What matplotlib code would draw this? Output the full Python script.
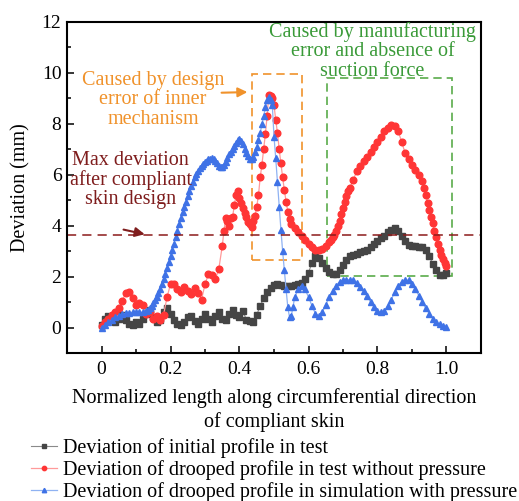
import numpy as np
import matplotlib
matplotlib.use("Agg")
import matplotlib.pyplot as plt
from matplotlib.patches import Rectangle
from matplotlib.ticker import FixedLocator

plt.rcParams['font.family'] = ['Liberation Serif', 'DejaVu Serif']

# ---- data ----
x_init = [round(0.01 * i, 2) for i in range(101)]
y_init = [0.1, 0.35, 0.45, 0.3, 0.2, 0.35, 0.5, 0.3, 0.15, 0.1,
          0.2, 0.15, 0.35, 0.55, 0.7, 0.4, 0.2, 0.3, 0.6, 0.75,
          0.55, 0.3, 0.15, 0.1, 0.2, 0.4, 0.45, 0.25, 0.15, 0.35,
          0.55, 0.35, 0.2, 0.45, 0.6, 0.35, 0.3, 0.55, 0.7, 0.5,
          0.4, 0.65, 0.3, 0.25, 0.2, 0.5, 0.85, 1.15, 1.4, 1.55,
          1.68, 1.7, 1.68, 1.65, 1.65, 1.65, 1.67, 1.7, 1.75, 1.9,
          2.15, 2.55, 2.8, 2.75, 2.55, 2.35, 2.2, 2.1, 2.1, 2.25,
          2.45, 2.65, 2.8, 2.85, 2.9, 2.95, 3.0, 3.05, 3.15, 3.3,
          3.4, 3.5, 3.6, 3.75, 3.85, 3.9, 3.8, 3.6, 3.4, 3.25,
          3.2, 3.2, 3.15, 3.15, 3.05, 2.8, 2.5, 2.25, 2.05, 2.05,
          2.15]

x_test = [0.00, 0.01, 0.02, 0.03, 0.04, 0.05, 0.06, 0.07, 0.08, 0.09,
          0.10, 0.11, 0.12, 0.13, 0.14, 0.15, 0.16, 0.17, 0.18, 0.19,
          0.20, 0.21, 0.22, 0.23, 0.24, 0.25, 0.26, 0.27, 0.28, 0.29,
          0.30, 0.31, 0.32, 0.33, 0.34, 0.35, 0.355, 0.36, 0.365, 0.37,
          0.375, 0.38, 0.385, 0.39, 0.395, 0.40, 0.405, 0.41, 0.415, 0.42,
          0.425, 0.43, 0.435, 0.44, 0.445, 0.45, 0.455, 0.46, 0.465, 0.47,
          0.475, 0.48, 0.485, 0.49, 0.495, 0.50, 0.505, 0.51, 0.515, 0.52,
          0.525, 0.53, 0.535, 0.54, 0.545, 0.55, 0.56, 0.57, 0.58, 0.59,
          0.60, 0.61, 0.62, 0.63, 0.64, 0.65, 0.66, 0.665, 0.67, 0.675,
          0.68, 0.685, 0.69, 0.695, 0.70, 0.705, 0.71, 0.715, 0.72, 0.73,
          0.74, 0.75, 0.76, 0.77, 0.78, 0.79,
          0.80, 0.81, 0.82, 0.83, 0.84, 0.85, 0.86, 0.87, 0.88, 0.89,
          0.90, 0.91, 0.92, 0.93, 0.935, 0.94, 0.945, 0.95, 0.955, 0.96,
          0.965, 0.97, 0.975, 0.98, 0.985, 0.99, 0.995, 1.00]
y_test = [0.05, 0.2, 0.35, 0.5, 0.6, 0.75, 1.05, 1.35, 1.4, 1.15,
          0.9, 0.95, 0.9, 0.55, 0.6, 0.35, 0.45, 0.3, 0.5, 1.2,
          1.7, 1.7, 1.5, 1.4, 1.6, 1.45, 1.3, 1.55, 1.35, 1.1,
          1.7, 2.1, 2.05, 1.9, 2.3, 3.2, 3.8, 4.3, 4.2, 4.0,
          4.3, 4.35, 4.8, 5.2, 5.35, 5.1, 4.9, 4.7, 4.5, 4.35,
          4.15, 4.05, 3.95, 4.2, 4.4, 4.75, 5.2, 5.9, 6.4, 7.0,
          7.6, 8.3, 9.15, 9.1, 9.0, 8.75, 8.15, 7.65, 7.0, 6.45,
          5.9, 5.4, 4.95, 4.55, 4.25, 4.05, 3.9, 3.75, 3.6, 3.45,
          3.3, 3.15, 3.05, 3.05, 3.1, 3.2, 3.35, 3.45, 3.55, 3.65,
          3.8, 4.0, 4.2, 4.45, 4.7, 4.95, 5.15, 5.35, 5.5, 5.8,
          6.15, 6.35, 6.55, 6.7, 6.9, 7.1,
          7.3, 7.5, 7.7, 7.85, 7.95, 7.9, 7.7, 7.3, 6.85, 6.6,
          6.4, 6.2, 6.0, 5.75, 5.5, 5.2, 4.9, 4.6, 4.35, 4.1,
          3.8, 3.55, 3.3, 3.05, 2.85, 2.7, 2.55, 2.4]

x_sim = [0.00, 0.01, 0.02, 0.03, 0.04, 0.05, 0.06, 0.07, 0.08, 0.09,
         0.10, 0.11, 0.12, 0.13, 0.135, 0.14, 0.145, 0.15, 0.155, 0.16,
         0.165, 0.17, 0.175, 0.18, 0.185, 0.19, 0.195, 0.20, 0.205, 0.21,
         0.215, 0.22, 0.225, 0.23, 0.235, 0.24, 0.245, 0.25, 0.255, 0.26,
         0.265, 0.27, 0.275, 0.28, 0.285, 0.29, 0.295, 0.30, 0.305, 0.31,
         0.315, 0.32, 0.325, 0.33, 0.335, 0.34, 0.345, 0.35, 0.355, 0.36,
         0.365, 0.37, 0.375, 0.38, 0.385, 0.39, 0.395, 0.40, 0.405, 0.41,
         0.415, 0.42, 0.425, 0.43, 0.435, 0.44, 0.445, 0.45, 0.455, 0.46,
         0.465, 0.47, 0.475, 0.48,
         0.485, 0.49, 0.495, 0.50, 0.505, 0.51, 0.515, 0.52, 0.525, 0.53,
         0.535, 0.54, 0.545, 0.55, 0.555, 0.56, 0.57, 0.58, 0.59, 0.60,
         0.61, 0.62, 0.63, 0.64, 0.65, 0.66, 0.67, 0.68, 0.69, 0.70,
         0.71, 0.72, 0.73, 0.74, 0.75, 0.76, 0.77, 0.78, 0.79, 0.80,
         0.81, 0.82, 0.83, 0.84, 0.85, 0.86, 0.87, 0.88, 0.89, 0.90,
         0.91, 0.92, 0.93, 0.94, 0.95, 0.96, 0.97, 0.98, 0.99, 1.00]
y_sim = [0.0, 0.1, 0.2, 0.3, 0.4, 0.47, 0.52, 0.56, 0.58, 0.6,
         0.6, 0.6, 0.6, 0.65, 0.7, 0.78, 0.86, 0.95, 1.07, 1.2,
         1.35, 1.5, 1.7, 1.9, 2.12, 2.35, 2.57, 2.8, 3.05, 3.3,
         3.55, 3.8, 4.05, 4.3, 4.52, 4.75, 4.95, 5.15, 5.35, 5.55,
         5.72, 5.9, 6.02, 6.15, 6.25, 6.35, 6.43, 6.5, 6.56, 6.6,
         6.63, 6.65, 6.62, 6.55, 6.45, 6.35, 6.3, 6.3, 6.38, 6.5,
         6.65, 6.8, 6.9, 7.0, 7.12, 7.25, 7.35, 7.4, 7.32, 7.2,
         7.02, 6.85, 6.72, 6.6, 6.62, 6.7, 6.88, 7.1, 7.35, 7.65,
         7.98, 8.3, 8.65, 8.95,
         9.05, 8.95, 8.75, 7.5, 6.65, 5.7, 4.75, 3.85, 3.0, 2.25,
         1.5, 0.8, 0.4, 0.45, 0.8, 1.2, 1.5, 1.65, 1.5, 1.2,
         0.85, 0.55, 0.45, 0.6, 0.9, 1.2, 1.45, 1.65, 1.8, 1.85,
         1.88, 1.88, 1.85, 1.75, 1.6, 1.45, 1.25, 1.0, 0.8, 0.65,
         0.6, 0.65, 0.85, 1.1, 1.4, 1.65, 1.8, 1.88, 1.85, 1.7,
         1.5, 1.25, 1.0, 0.75, 0.55, 0.35, 0.2, 0.12, 0.07, 0.04]

max_dev = 3.65
labels = ["Deviation of initial profile in test",
          "Deviation of drooped profile in test without pressure",
          "Deviation of drooped profile in simulation with pressure"]

fs = 14.5

fig = plt.figure(figsize=(5.19, 5.01), dpi=100)
ax = fig.add_axes([67 / 519, 1 - 353 / 501, (481 - 67) / 519, (353 - 22) / 501])

ax.plot(x_init, y_init, '-', color='#8a8a8a', lw=0.8, marker='s', ms=4.0,
        mfc='#454545', mec='#454545', label=labels[0])
ax.plot(x_test, y_test, '-', color='#ff9a9a', lw=0.9, marker='o', ms=4.8,
        mfc='#ff3535', mec='#ff3535', label=labels[1])
ax.plot(x_sim, y_sim, '-', color='#8fb2f2', lw=0.9, marker='^', ms=4.9,
        mfc='#3f72e6', mec='#3f72e6', label=labels[2])

ax.axhline(max_dev, color='#8b1a1a', lw=1.1, ls=(0, (6, 4)))

ax.add_patch(Rectangle((0.437, 2.65), 0.58 - 0.437, 9.96 - 2.65, fill=False,
                       ec='#f0922b', lw=1.2, ls=(0, (5, 3))))
ax.add_patch(Rectangle((0.653, 2.03), 1.015 - 0.653, 9.8 - 2.03, fill=False,
                       ec='#5aab4a', lw=1.2, ls=(0, (5, 3))))

ax.text(0.149, 8.94, "Caused by design\nerror of inner\nmechanism", color='#f0922b',
        fontsize=fs, ha='center', va='center', linespacing=1.02)
ax.annotate('', xy=(0.431, 9.25), xytext=(0.34, 9.22),
            arrowprops=dict(arrowstyle='-|>', color='#f0922b', lw=1.5, mutation_scale=14))

ax.text(0.786, 10.85, "Caused by manufacturing\nerror and absence of\nsuction force", color='#3a9a38',
        fontsize=fs, ha='center', va='center', linespacing=1.02)

ax.text(0.085, 5.8, "Max deviation\nafter compliant\nskin design", color='#7f1d1d',
        fontsize=fs, ha='center', va='center', linespacing=1.02)
ax.annotate('', xy=(0.133, 3.64), xytext=(0.056, 3.87),
            arrowprops=dict(arrowstyle='-|>', color='#7f1d1d', lw=1.5, mutation_scale=14))

ax.set_xlim(-0.1, 1.1)
ax.set_ylim(-1, 12)
ax.xaxis.set_major_locator(FixedLocator([0, 0.2, 0.4, 0.6, 0.8, 1.0]))
ax.set_xticklabels(['0', '0.2', '0.4', '0.6', '0.8', '1.0'])
ax.xaxis.set_minor_locator(FixedLocator([0.1, 0.3, 0.5, 0.7, 0.9]))
ax.yaxis.set_major_locator(FixedLocator([0, 2, 4, 6, 8, 10, 12]))
ax.yaxis.set_minor_locator(FixedLocator([1, 3, 5, 7, 9, 11]))
ax.tick_params(which='both', direction='in', top=False, right=False, labelsize=14, width=1.1)
ax.tick_params(which='major', length=5)
ax.tick_params(which='minor', length=3)
ax.tick_params(axis='x', pad=6)
ax.tick_params(axis='y', pad=4)
for s in ax.spines.values():
    s.set_linewidth(1.5)

ax.set_xlabel("Normalized length along circumferential direction\nof compliant skin",
              fontsize=fs, labelpad=7, linespacing=1.25)
ax.set_ylabel("Deviation (mm)", fontsize=fs, labelpad=8)

h, l = ax.get_legend_handles_labels()
fig.legend(h, l, loc='upper left', bbox_to_anchor=(31 / 519, 1 - 438 / 501), frameon=False,
           fontsize=fs, handlelength=1.3, handletextpad=0.3, labelspacing=0.1,
           borderpad=0, borderaxespad=0, markerscale=0.65)

fig.savefig("out.png", dpi=100)
